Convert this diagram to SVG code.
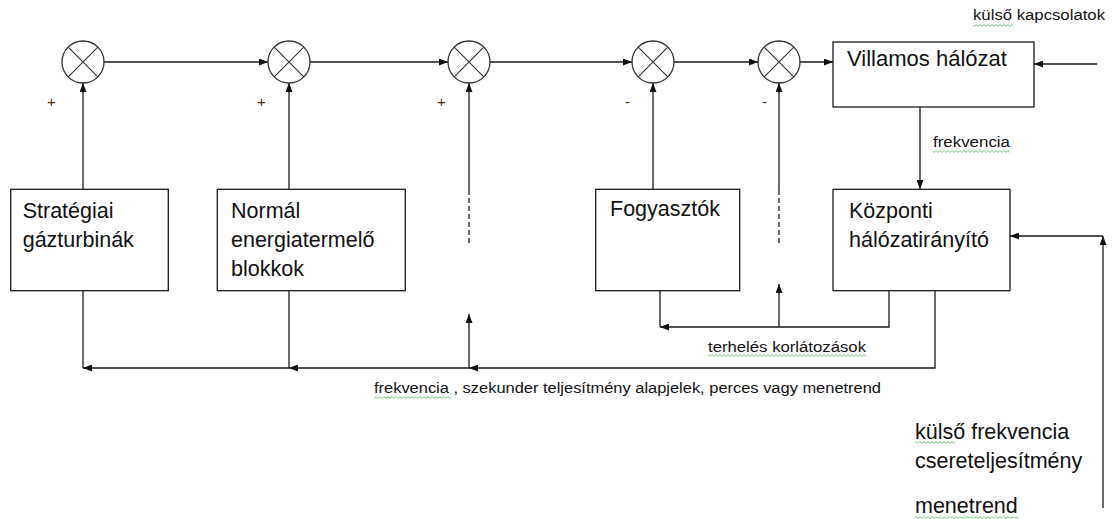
<svg xmlns="http://www.w3.org/2000/svg" width="1113" height="519" viewBox="0 0 1113 519">
<style>
.ln{fill:none;stroke:#1a1a1a;stroke-width:1.3}
.box{fill:#fff;stroke:#1a1a1a;stroke-width:1.3}
.sum{fill:#fff;stroke:#333;stroke-width:1.3}
.bt{font-family:"Liberation Sans",Arial,sans-serif;font-size:21.5px;fill:#111}
.st{font-family:"Liberation Sans",Arial,sans-serif;font-size:15.5px;fill:#111}
.sg{font-family:"Liberation Sans",Arial,sans-serif;font-size:15px;fill:#4a2c08}
.dash{fill:none;stroke:#1a1a1a;stroke-width:1.3;stroke-dasharray:5 3}
.sq{fill:url(#sq)}
</style>
<defs>
<marker id="ah" viewBox="0 0 9 7" refX="9" refY="3.5" markerWidth="9" markerHeight="7" markerUnits="userSpaceOnUse" orient="auto">
<path d="M0,0 L9,3.5 L0,7 z" fill="#111"/>
</marker>
<pattern id="sq" width="4" height="3" patternUnits="userSpaceOnUse">
<path d="M0,0.6 L2,2.4 L4,0.6" fill="none" stroke="#5cb85c" stroke-width="0.8"/>
</pattern>
<g id="xsym"><circle cx="0" cy="0" r="21" class="sum"/><path d="M-14.8,-14.8 L14.8,14.8 M-14.8,14.8 L14.8,-14.8" class="ln" style="stroke:#333;stroke-width:1.1"/></g>
</defs>
<rect width="1113" height="519" fill="#fff"/>

<g id="connectors">
<line x1="104" y1="62" x2="268" y2="62" class="ln" marker-end="url(#ah)"/>
<line x1="310" y1="62" x2="448" y2="62" class="ln" marker-end="url(#ah)"/>
<line x1="490" y1="62" x2="632" y2="62" class="ln" marker-end="url(#ah)"/>
<line x1="674" y1="62" x2="758" y2="62" class="ln" marker-end="url(#ah)"/>
<line x1="800" y1="62" x2="833" y2="62" class="ln" marker-end="url(#ah)"/>
<line x1="83" y1="189" x2="83" y2="83" class="ln" marker-end="url(#ah)"/>
<line x1="289" y1="189" x2="289" y2="83" class="ln" marker-end="url(#ah)"/>
<line x1="469" y1="190" x2="469" y2="83" class="ln" marker-end="url(#ah)"/>
<line x1="469" y1="190" x2="469" y2="246" class="dash"/>
<line x1="653" y1="189" x2="653" y2="83" class="ln" marker-end="url(#ah)"/>
<line x1="779" y1="190" x2="779" y2="83" class="ln" marker-end="url(#ah)"/>
<line x1="779" y1="190" x2="779" y2="246" class="dash"/>
<line x1="920" y1="107" x2="920" y2="189" class="ln" marker-end="url(#ah)"/>
<line x1="1097" y1="64" x2="1034" y2="64" class="ln" marker-end="url(#ah)"/>
<line x1="1103" y1="508" x2="1103" y2="236" class="ln" marker-end="url(#ah)"/>
<line x1="1103" y1="236" x2="1010" y2="236" class="ln" marker-end="url(#ah)"/>
<polyline points="889,291 889,327 660,327" class="ln" marker-end="url(#ah)"/>
<line x1="660" y1="291" x2="660" y2="327" class="ln"/>
<line x1="779" y1="327" x2="779" y2="284" class="ln" marker-end="url(#ah)"/>
<polyline points="935,291 935,368 469,368" class="ln" marker-end="url(#ah)"/>
<line x1="469" y1="368" x2="289" y2="368" class="ln" marker-end="url(#ah)"/>
<line x1="289" y1="368" x2="83" y2="368" class="ln" marker-end="url(#ah)"/>
<line x1="469" y1="368" x2="469" y2="314" class="ln" marker-end="url(#ah)"/>
<line x1="83" y1="291" x2="83" y2="368" class="ln"/>
<line x1="289" y1="291" x2="289" y2="368" class="ln"/>
</g>

<g id="sum1"><use href="#xsym" x="83" y="62"/><text x="47" y="107" class="sg">+</text></g>
<g id="sum2"><use href="#xsym" x="289" y="62"/><text x="257" y="107" class="sg">+</text></g>
<g id="sum3"><use href="#xsym" x="469" y="62"/><text x="437" y="107" class="sg">+</text></g>
<g id="sum4"><use href="#xsym" x="653" y="62"/><text x="625" y="107" class="sg">-</text></g>
<g id="sum5"><use href="#xsym" x="779" y="62"/><text x="762" y="107" class="sg">-</text></g>

<g id="villamos">
<rect x="833" y="42" width="201" height="65" class="box"/>
<text x="847" y="66" class="bt" textLength="160" lengthAdjust="spacingAndGlyphs">Villamos hálózat</text>
</g>
<g id="strategiai">
<rect x="10.7" y="189.3" width="157.6" height="101.4" class="box"/>
<text x="22.7" y="218" class="bt">Stratégiai</text>
<text x="22.7" y="247" class="bt">gázturbinák</text>
</g>
<g id="normal">
<rect x="217.3" y="189.3" width="188" height="101.4" class="box"/>
<text x="231" y="218" class="bt">Normál</text>
<text x="231" y="247" class="bt">energiatermelő</text>
<text x="231" y="276" class="bt">blokkok</text>
</g>
<g id="fogyasztok">
<rect x="595.7" y="189.3" width="144" height="101.4" class="box"/>
<text x="610" y="216" class="bt">Fogyasztók</text>
</g>
<g id="kozponti">
<rect x="833" y="189.3" width="177" height="101.4" class="box"/>
<text x="849" y="218" class="bt">Központi</text>
<text x="849" y="247" class="bt">hálózatirányító</text>
</g>

<g id="labels">
<text x="973" y="20" class="st" textLength="132" lengthAdjust="spacingAndGlyphs">külső kapcsolatok</text>
<rect x="973" y="24" width="40" height="3" class="sq"/>
<text x="933" y="147" class="st" textLength="77" lengthAdjust="spacingAndGlyphs">frekvencia</text>
<rect x="933" y="150" width="77" height="3" class="sq"/>
<text x="708" y="352" class="st" textLength="158" lengthAdjust="spacingAndGlyphs">terhelés korlátozások</text>
<rect x="708" y="354" width="158" height="3" class="sq"/>
<text x="374" y="393" class="st" textLength="507" lengthAdjust="spacingAndGlyphs">frekvencia ,  szekunder teljesítmény alapjelek, perces vagy menetrend</text>
<rect x="374" y="396" width="78" height="3" class="sq"/>
<text x="915" y="439" class="bt">külső frekvencia</text>
<rect x="915" y="441" width="40" height="3" class="sq"/>
<text x="915" y="468" class="bt">csereteljesítmény</text>
<text x="915" y="513" class="bt">menetrend</text>
<rect x="915" y="516" width="104" height="3" class="sq"/>
</g>
</svg>
